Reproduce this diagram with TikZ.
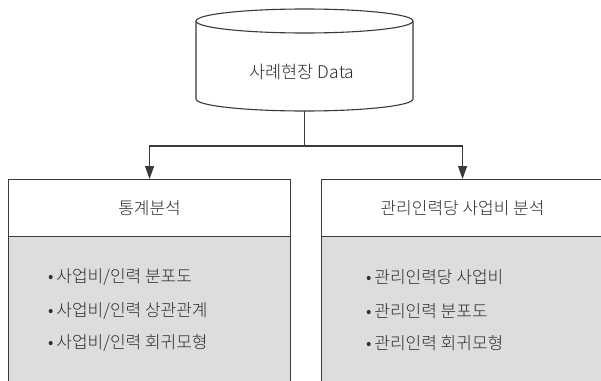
\documentclass[tikz,border=0pt]{standalone}
\usepackage{fontspec}
\setmainfont{Noto Sans CJK KR Light}
\usetikzlibrary{arrows.meta}
\definecolor{linec}{HTML}{3A3A3A}
\definecolor{textc}{HTML}{2E2E2E}
\definecolor{bodyfill}{HTML}{DCDDDF}
\tikzset{
  conn/.style={draw=linec, line width=1.1pt},
  arrowconn/.style={conn, -{Triangle[length=13pt,width=9pt]}},
  titlebox/.style={draw=linec, line width=1.1pt, fill=white, minimum width=282pt, minimum height=57pt, inner sep=0pt, font=\fontsize{17pt}{20pt}\selectfont, text=textc},
  bodybox/.style={draw=linec, line width=1.1pt, fill=bodyfill, minimum width=282pt, minimum height=160pt, inner sep=0pt},
  item/.style={anchor=west, inner sep=0pt, font=\fontsize{17pt}{20pt}\selectfont, text=textc},
}
\begin{document}
\begin{tikzpicture}[x=1pt,y=-1pt]
\useasboundingbox (0,0) rectangle (601,380);
\clip (0,0) rectangle (601,380);
% cylinder
\draw[conn, fill=white] (196,21) -- (196,99) arc[start angle=180, end angle=360, x radius=108.5pt, y radius=12pt] -- (413,21);
\draw[conn, fill=white] (304.5,21) ellipse[x radius=108.5pt, y radius=12pt];
\node[font=\fontsize{17.5pt}{20pt}\selectfont, text=textc] (data) at (302,72) {사례현장 Data};
\coordinate (cylbot) at (304.5,111);
\coordinate (split) at (304.5,146);
% boxes
\node[bodybox, anchor=north west] (lbody) at (8,236) {};
\node[titlebox, anchor=north west] (ltitle) at (8,179) {통계분석};
\node[bodybox, anchor=north west] (rbody) at (321,236) {};
\node[titlebox, anchor=north west] (rtitle) at (321,179) {관리인력당 사업비 분석};
% connectors
\draw[conn] (cylbot) -- (split);
\draw[arrowconn] (split) -| (ltitle.north);
\draw[arrowconn] (split) -| (rtitle.north);
% items
\node[item] (l1) at (48,277) {•\,사업비/인력 분포도};
\node[item] (l2) at (48,311) {•\,사업비/인력 상관관계};
\node[item] (l3) at (48,343) {•\,사업비/인력 회귀모형};
\node[item] (r1) at (366,277) {•\,관리인력당 사업비};
\node[item] (r2) at (366,311) {•\,관리인력 분포도};
\node[item] (r3) at (366,343) {•\,관리인력 회귀모형};
\end{tikzpicture}
\end{document}
